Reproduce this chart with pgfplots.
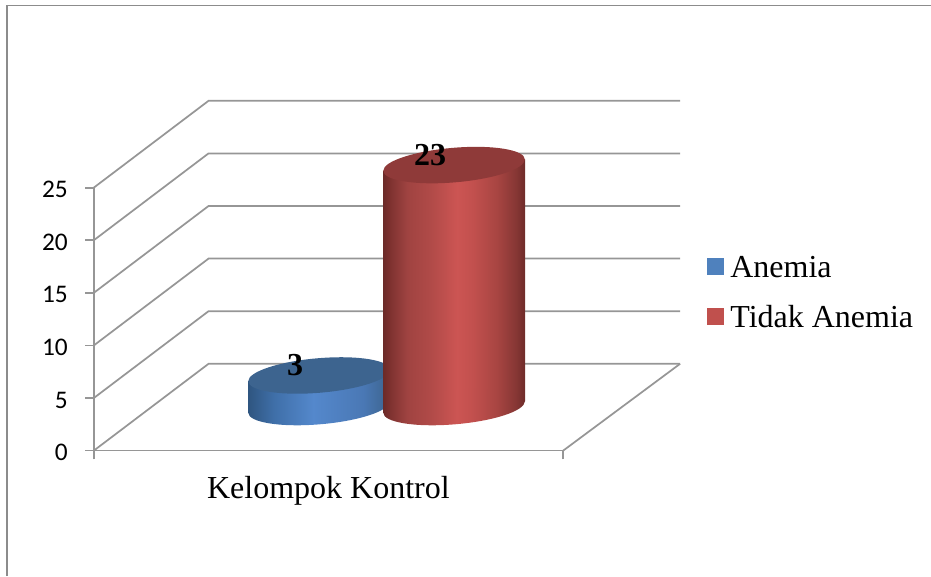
\documentclass[border=0pt]{standalone}
\usepackage{pgfplots}
\pgfplotsset{compat=1.18}
\usepackage{fontspec}
\setmainfont{Liberation Serif}
\newfontfamily\tickfont{Carlito}
\usetikzlibrary{shapes.geometric}

\definecolor{gridgray}{HTML}{969696}
\definecolor{framegray}{HTML}{8C8C8C}
\definecolor{blueleg}{HTML}{4F81BD}
\definecolor{redleg}{HTML}{C0504D}
\definecolor{bluetop}{HTML}{3D648F}
\definecolor{redtop}{HTML}{8F3A39}

% Side shading of the cylinders: the visible span is 25bp..75bp
\pgfdeclarehorizontalshading{redcyl}{100bp}{
  rgb(0bp)=(0.424,0.165,0.157);
  rgb(25bp)=(0.424,0.165,0.157);
  rgb(27.5bp)=(0.498,0.196,0.188);
  rgb(33.5bp)=(0.627,0.263,0.255);
  rgb(41.5bp)=(0.690,0.290,0.282);
  rgb(51bp)=(0.800,0.333,0.325);
  rgb(56.5bp)=(0.761,0.314,0.306);
  rgb(65bp)=(0.659,0.271,0.259);
  rgb(72bp)=(0.522,0.212,0.204);
  rgb(75bp)=(0.431,0.169,0.161);
  rgb(100bp)=(0.431,0.169,0.161)}
\pgfdeclarehorizontalshading{bluecyl}{100bp}{
  rgb(0bp)=(0.184,0.333,0.502);
  rgb(25bp)=(0.184,0.333,0.502);
  rgb(34bp)=(0.247,0.435,0.659);
  rgb(48bp)=(0.329,0.533,0.800);
  rgb(65.5bp)=(0.290,0.471,0.710);
  rgb(73bp)=(0.247,0.408,0.588);
  rgb(75bp)=(0.184,0.333,0.502);
  rgb(100bp)=(0.184,0.333,0.502)}

\pgfplotsset{
  chartbox/.style={
    scale only axis, width=352pt, height=197.25pt,
    at={(70.3pt,93.98pt)}, anchor=south west,
    xmin=93.7, xmax=563, clip=false},
  % value scale of the cylinders: 0 sits on the middle of the floor
  cylinderbox/.style={chartbox, hide axis, ymin=-4.15, ymax=20.85},
  wall/.style={gridgray, line width=1.3pt, forget plot, no marks},
  disc/.style={only marks, mark=none, forget plot,
    nodes near coords={},
    nodes near coords align={anchor=center},
    every node near coord/.append style={
      shape=ellipse, inner sep=0pt, outer sep=0pt, draw=none,
      minimum width=106.2pt, minimum height=#1,
      transform shape, yslant=0.08}},
}

\begin{document}
\begin{tikzpicture}
\path[use as bounding box] (0,0) rectangle (698.25pt,432pt);
% outer chart frame
\draw[framegray, line width=1pt] (5.2pt,0) -- (5.2pt,427.9pt) -- (698.25pt,427.9pt);

% walls, floor, value axis and legend
\begin{axis}[chartbox,
  ymin=0, ymax=25,
  axis x line=bottom, axis y line=left,
  axis line style={gridgray, line width=1.2pt, -},
  xtick={93.7,563}, xticklabels={},
  ytick={0,5,10,15,20,25},
  tick align=outside, major tick length=6.5pt,
  tick style={gridgray, line width=1.2pt},
  /pgf/number format/assume math mode=true,
  yticklabel style={font=\tickfont\fontsize{19}{19}\selectfont, xshift=-9.5pt, yshift=-1.5pt, text=black},
  xlabel={Kelompok Kontrol},
  xlabel style={font=\fontsize{24}{24}\selectfont, at={(axis description cs:0.5,0)}, anchor=base, yshift=-35.5pt},
  legend style={at={(axis cs:707,18.5)}, anchor=north west, draw=none, fill=none,
    font=\fontsize{24}{24}\selectfont, row sep=19.5pt, inner sep=0pt, outer sep=0pt,
    nodes={inner sep=0pt, anchor=base west}},
  legend cell align=left,
  legend image code/.code={\fill[#1] (0pt,2.25pt) rectangle (12pt,14.25pt); \path[draw=none, fill=none] (0pt,0pt) -- (17.25pt,0pt);},
]
\addplot[wall] coordinates {(93.7,0)(208.5,8.26)(680,8.26)};
\addplot[wall] coordinates {(93.7,5)(208.5,13.26)(680,13.26)};
\addplot[wall] coordinates {(93.7,10)(208.5,18.26)(680,18.26)};
\addplot[wall] coordinates {(93.7,15)(208.5,23.26)(680,23.26)};
\addplot[wall] coordinates {(93.7,20)(208.5,28.26)(680,28.26)};
\addplot[wall] coordinates {(93.7,25)(208.5,33.26)(680,33.26)};
\addplot[wall] coordinates {(563,0)(680,8.26)};
\addlegendimage{blueleg}
\addlegendentry{Anemia}
\addlegendimage{redleg}
\addlegendentry{Tidak Anemia}
\end{axis}

% Anemia cylinder
\begin{axis}[cylinderbox]
\addplot[disc=26pt, every node near coord/.append style={shading=bluecyl}]
  coordinates {(319,0)};
\addplot[draw=none, shade, shading=bluecyl, forget plot]
  coordinates {(248.3,-0.54)(248.3,2.46)(389.7,3.54)(389.7,0.54)};
\addplot[disc=26pt, every node near coord/.append style={fill=bluetop}]
  coordinates {(319,3)};
\end{axis}

% Tidak Anemia cylinder, standing in front of the other one
\begin{axis}[cylinderbox]
\addplot[disc=26pt, every node near coord/.append style={shading=redcyl}]
  coordinates {(454,0)};
\addplot[draw=none, shade, shading=redcyl, forget plot]
  coordinates {(383.3,-0.54)(383.3,22.46)(525,23.54)(525,0.54)};
\addplot[disc=26pt, every node near coord/.append style={fill=redtop}]
  coordinates {(454,23)};
\end{axis}

% value labels
\begin{axis}[cylinderbox]
\addplot[only marks, mark=none, forget plot,
  nodes near coords,
  nodes near coords align={anchor=center},
  /pgf/number format/assume math mode=true,
  every node near coord/.append style={font=\bfseries\fontsize{24}{24}\selectfont,
    text=black, inner sep=0pt, xshift=-18pt, yshift=7.5pt}]
  coordinates {(319,3)(454,23)};
\end{axis}
\end{tikzpicture}
\end{document}
